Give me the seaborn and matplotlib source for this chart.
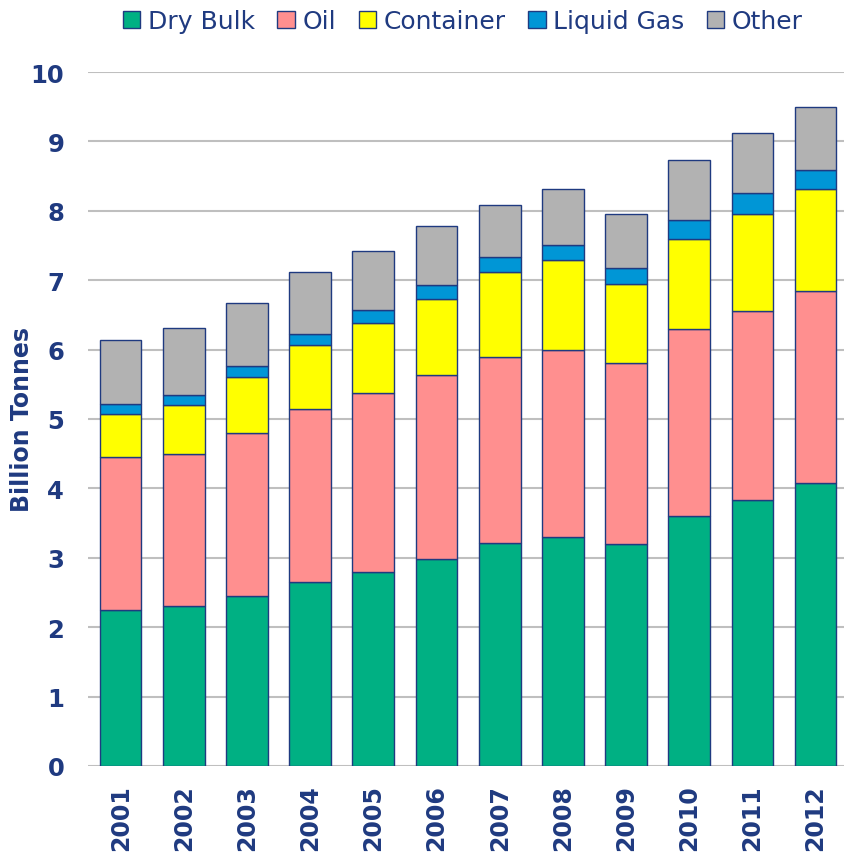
import matplotlib
matplotlib.use("Agg")
import matplotlib.pyplot as plt
import seaborn as sns
import pandas as pd
import numpy as np

years = ["2001", "2002", "2003", "2004", "2005", "2006",
         "2007", "2008", "2009", "2010", "2011", "2012"]
dry_bulk = [2.24, 2.31, 2.45, 2.65, 2.80, 2.98, 3.21, 3.30, 3.20, 3.60, 3.83, 4.08]
oil = [2.21, 2.19, 2.35, 2.50, 2.57, 2.65, 2.68, 2.70, 2.60, 2.70, 2.72, 2.77]
container = [0.62, 0.70, 0.80, 0.91, 1.02, 1.10, 1.23, 1.29, 1.15, 1.30, 1.41, 1.46]
liquid_gas = [0.15, 0.14, 0.16, 0.17, 0.18, 0.20, 0.21, 0.21, 0.22, 0.27, 0.29, 0.28]
other = [0.92, 0.97, 0.91, 0.89, 0.85, 0.85, 0.76, 0.81, 0.79, 0.86, 0.87, 0.90]

series = [("Dry Bulk", dry_bulk, "#00B083"),
          ("Oil", oil, "#FF8F8F"),
          ("Container", container, "#FFFF00"),
          ("Liquid Gas", liquid_gas, "#0096D6"),
          ("Other", other, "#B2B2B2")]

navy = "#1F3A80"

sns.set_theme(style="white")
plt.rcParams['font.family'] = ['DejaVu Sans']

fig = plt.figure(figsize=(8.44, 8.54), dpi=100)
ax = fig.add_axes([0.104, 0.102, 0.896, 0.8125])

bottom = np.zeros(len(years))
for name, vals, col in series:
    df = pd.DataFrame({"year": years, "value": vals})
    sns.barplot(data=df, x="year", y="value", ax=ax, color=col, bottom=bottom,
                width=0.66, edgecolor=navy, linewidth=1.0, label=name,
                saturation=1)
    bottom = bottom + np.array(vals)

ax.set_ylim(0, 10)
ax.set_xlim(-0.52, 11.45)
ax.set_yticks(range(0, 11))
ax.yaxis.grid(True, color="#BFBFBF", linewidth=1.5)
ax.set_axisbelow(True)
for s in ax.spines.values():
    s.set_visible(False)

ax.tick_params(axis="y", length=0, pad=17, labelsize=17.5, labelcolor=navy)
ax.tick_params(axis="x", length=0, pad=13, labelsize=17, labelcolor=navy,
               labelrotation=90)
for lab in ax.get_xticklabels() + ax.get_yticklabels():
    lab.set_fontweight("bold")

ax.set_xlabel("")
ax.set_ylabel("Billion Tonnes", fontsize=17, fontweight="bold", color=navy)
ax.yaxis.set_label_coords(-0.0714, 0.5)

leg = ax.legend(loc="center", bbox_to_anchor=(0.496, 1.0735), ncol=5,
                frameon=False, fontsize=18, handlelength=0.7, handleheight=0.7,
                handletextpad=0.3, columnspacing=0.9, borderaxespad=0)
for t in leg.get_texts():
    t.set_color(navy)

fig.savefig("out.png", dpi=100)
